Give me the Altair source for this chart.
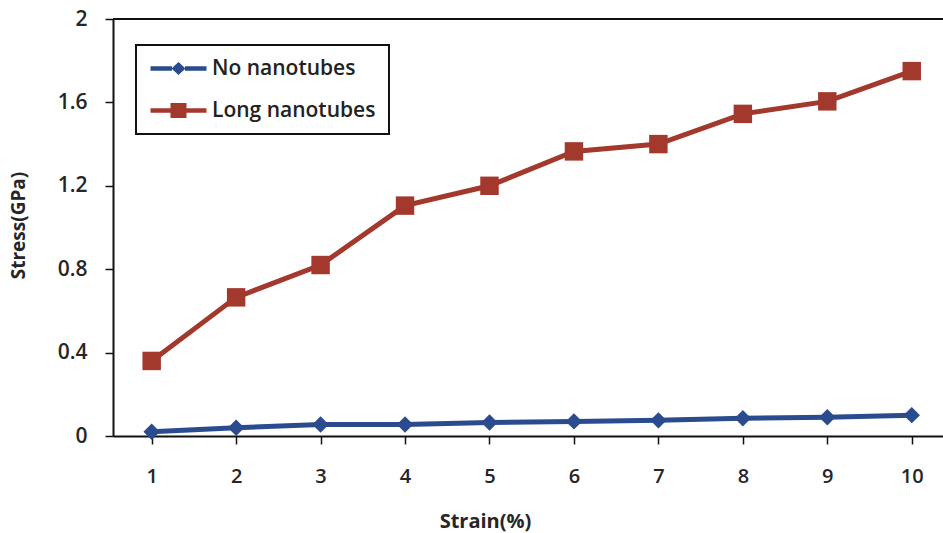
import altair as alt
import pandas as pd

# Strain levels (%) and measured stress (GPa) for each specimen type
strain = [1, 2, 3, 4, 5, 6, 7, 8, 9, 10]
no_nanotubes = [0.02, 0.04, 0.055, 0.055, 0.065, 0.07, 0.075, 0.085, 0.09, 0.10]
long_nanotubes = [0.36, 0.665, 0.82, 1.105, 1.2, 1.365, 1.40, 1.545, 1.605, 1.75]

series_names = ["No nanotubes", "Long nanotubes"]
series_colors = ["#2A4B8D", "#A3382C"]
y_ticks = [0, 0.4, 0.8, 1.2, 1.6, 2]

df = pd.DataFrame(
    {
        "strain": strain * 2,
        "stress": no_nanotubes + long_nanotubes,
        "series": [series_names[0]] * len(strain) + [series_names[1]] * len(strain),
    }
)

FONT = "Open Sans"
TEXT = "#262626"
X_DOMAIN = [0.542, 10.37]

x_enc = alt.X(
    "strain:Q",
    scale=alt.Scale(domain=X_DOMAIN, nice=False, zero=False),
    axis=alt.Axis(
        title="Strain(%)",
        values=strain,
        format="d",
        grid=False,
        tickSize=8,
        tickColor="#111",
        tickWidth=1.5,
        domainColor="#111",
        domainWidth=2,
        labelFont=FONT,
        labelFontSize=20,
        labelFontWeight=600,
        labelColor=TEXT,
        labelPadding=22,
        titleFont=FONT,
        titleFontSize=20,
        titleFontWeight="bold",
        titleColor=TEXT,
        titleX=372,
        titleY=91,
        titleBaseline="alphabetic",
    ),
)
y_enc = alt.Y(
    "stress:Q",
    scale=alt.Scale(domain=[0, 2], nice=False),
    axis=alt.Axis(
        title="Stress(GPa)",
        values=y_ticks,
        format="~g",
        grid=False,
        tickSize=8,
        tickColor="#111",
        tickWidth=1.5,
        domainColor="#111",
        domainWidth=2,
        labelFont=FONT,
        labelFontSize=21,
        labelFontWeight=600,
        labelColor=TEXT,
        labelPadding=18,
        titleFont=FONT,
        titleFontSize=19,
        titleFontWeight="bold",
        titleColor=TEXT,
        titleX=-104,
        titleY=206,
        titleBaseline="top",
    ),
)

color_scale = alt.Scale(domain=series_names, range=series_colors)

# Legend symbols: a line segment with the series marker in the middle
diamond_key = (
    "M-5.6,-0.45H-1.3V0.45H-5.6Z"
    "M-1.4,0L0,-1.3L1.4,0L0,1.3Z"
    "M1.3,-0.45H5.6V0.45H1.3Z"
)
square_key = (
    "M-5.6,-0.45H-1.6V0.45H-5.6Z"
    "M-1.6,-1.5H1.6V1.5H-1.6Z"
    "M1.6,-0.45H5.6V0.45H1.6Z"
)

series_legend = alt.Legend(
    title=None,
    orient="none",
    legendX=23,
    legendY=26,
    padding=13,
    strokeColor="#111",
    fillColor="white",
    symbolSize=100,
    symbolStrokeWidth=0,
    symbolOpacity=1,
    symbolOffset=19,
    labelOffset=23,
    labelLimit=400,
    labelFont=FONT,
    labelFontSize=21,
    labelFontWeight=600,
    labelColor="#222",
    rowPadding=20,
)

lines = (
    alt.Chart(df)
    .mark_line(strokeWidth=5)
    .encode(
        x=x_enc,
        y=y_enc,
        color=alt.Color("series:N", scale=color_scale, legend=series_legend),
    )
)

diamonds = (
    alt.Chart(df)
    .transform_filter(alt.datum.series == series_names[0])
    .mark_point(shape="diamond", filled=True, opacity=1, size=270, color=series_colors[0])
    .encode(x="strain:Q", y="stress:Q")
)

squares = (
    alt.Chart(df)
    .transform_filter(alt.datum.series == series_names[1])
    .mark_point(shape="square", filled=True, opacity=1, size=340, color=series_colors[1])
    .encode(x="strain:Q", y="stress:Q")
)

legend_layer = (
    alt.Chart(df)
    .transform_filter("false")
    .mark_point(filled=True, opacity=1)
    .encode(
        x="strain:Q",
        y="stress:Q",
        color=alt.Color("series:N", scale=color_scale, legend=series_legend),
        shape=alt.Shape(
            "series:N",
            scale=alt.Scale(domain=series_names, range=[diamond_key, square_key]),
            legend=series_legend,
        ),
    )
)

# Top frame line of the plot area
top_frame = (
    alt.Chart()
    .mark_rule(color="#111", strokeWidth=2)
    .encode(x=alt.datum(X_DOMAIN[0]), x2=alt.datum(X_DOMAIN[1]), y=alt.datum(2))
)

chart = (
    alt.layer(lines, diamonds, squares, legend_layer, top_frame)
    .properties(
        width=830,
        height=417,
        padding={"left": 113, "top": 19, "right": 0, "bottom": 97},
        autosize=alt.AutoSizeParams(type="none"),
        background="white",
    )
    .configure_view(stroke=None)
    .configure_legend(strokeWidth=2)
)

chart.save("out.html", embed_options={"renderer": "svg", "actions": False})
